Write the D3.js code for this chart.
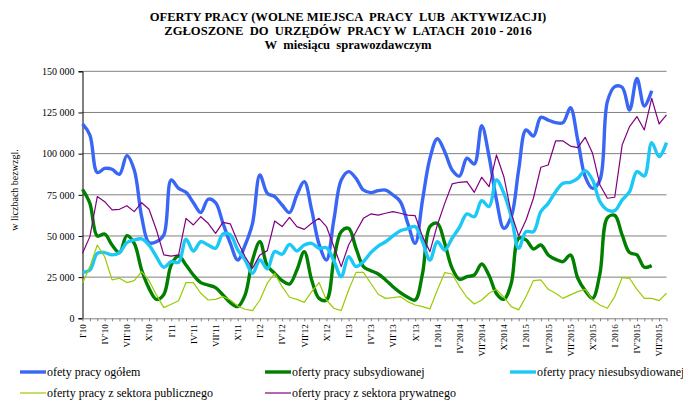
<!DOCTYPE html>
<html>
<head>
<meta charset="utf-8">
<script src="https://cdn.jsdelivr.net/npm/d3@7"></script>
<style>
  body { margin: 0; background: #fff; }
  svg { font-family: "Liberation Serif", "Times New Roman", serif; }
</style>
</head>
<body>
<div id="chart"></div>
<script>
// oferty pracy 2010 - 2016, miesiecznie (I'10 .. VIII'16)
var ogolem = [118.0,111.3,88.5,91.0,90.5,87.4,98.8,90.1,61.7,45.9,46.5,50.6,84.0,78.9,76.5,70.2,64.2,72.3,70.2,57.7,
  45.5,35.4,44.5,57.7,87.0,75.9,73.9,68.8,64.2,74.9,83.0,65.8,45.0,35.4,59.7,84.0,89.1,85.0,77.9,76.3,
  77.5,77.9,74.9,70.8,57.7,45.5,71.9,97.2,109.0,101.2,90.1,86.4,97.2,93.7,117.0,98.2,71.9,54.6,61.7,90.1,
  114.4,110.7,122.0,120.4,118.8,118.8,127.9,108.2,86.0,78.9,84.0,131.6,140.7,140.3,126.5,145.7,128.9,138.2];
var subsydiowane = [78.3,69.8,50.0,51.2,44.5,39.9,50.2,45.5,29.3,18.2,11.5,14.5,32.4,37.8,32.4,26.3,21.7,20.2,18.6,14.2,
  9.5,7.1,14.2,35.4,46.5,31.8,27.3,22.9,20.8,29.3,40.5,23.3,12.1,11.1,35.4,52.6,54.6,42.5,31.4,28.9,
  26.9,23.3,19.2,15.6,12.8,11.1,27.3,55.7,57.7,45.5,30.4,23.7,25.3,26.3,33.0,26.0,15.0,11.5,21.3,48.6,
  47.6,42.1,44.5,38.5,35.8,34.4,38.5,24.3,16.8,12.1,27.3,61.0,62.5,50.6,39.9,38.5,31.0,32.0];
var niesubsydiowane = [27.9,29.3,39.5,39.9,38.5,39.9,45.9,47.6,48.2,44.5,37.4,31.0,34.4,34.0,48.0,40.9,46.5,44.5,42.5,51.2,
  50.6,41.5,35.4,27.3,35.4,30.0,40.5,38.9,44.9,40.9,44.5,45.5,42.5,42.9,35.0,25.3,37.4,31.4,34.4,39.9,
  43.9,46.5,50.0,53.2,54.4,55.7,46.5,35.4,46.5,41.5,48.6,55.3,63.4,61.7,71.4,67.8,84.0,75.9,61.7,42.5,
  52.6,52.6,64.8,69.8,76.9,82.0,82.6,85.0,89.7,84.0,70.8,65.8,65.4,71.9,76.9,89.1,86.4,106.7,98.2,106.7];
var publiczne = [21.3,31.4,44.5,37.4,23.3,24.3,21.7,22.9,28.3,22.9,14.2,6.5,8.5,10.7,21.7,21.7,15.2,11.1,11.5,13.2,
  11.1,7.5,5.5,4.7,11.1,21.3,27.3,19.2,12.8,11.5,9.7,16.2,21.7,11.1,6.1,4.7,17.2,27.9,27.9,21.3,
  14.6,12.1,12.5,13.2,10.1,8.1,7.1,5.7,17.2,27.7,26.9,19.2,12.8,8.7,11.1,15.2,17.6,12.8,7.1,5.1,
  13.2,22.9,23.3,17.6,15.2,12.1,14.2,16.2,17.6,11.1,8.1,6.1,13.2,24.7,24.3,17.6,12.1,12.1,10.7,15.2];
var prywatne = [39.5,49.6,73.9,70.8,65.8,66.2,68.4,64.8,70.2,66.2,53.6,38.5,37.8,38.5,60.7,56.7,61.7,57.7,51.6,58.3,
  57.3,46.5,37.4,30.4,38.5,41.1,59.1,55.7,61.3,55.7,54.0,57.7,60.7,55.7,43.5,31.4,44.5,52.6,60.7,63.4,
  62.7,63.8,64.8,63.8,62.7,62.3,49.6,40.5,56.7,69.8,81.6,82.6,83.0,76.5,85.6,79.9,99.2,86.0,63.8,50.0,
  59.7,72.9,91.7,93.1,107.7,107.7,104.6,103.6,109.9,100.2,81.0,72.9,73.5,105.2,116.4,122.5,114.4,133.6,118.0,123.5];

// podpisy osi X co 3 miesiace (tak jak w oryginale, razem z literowkami)
var etykiety = ["I'10","IV'10","VII'10","X'10","I'11","IV'11","VII'11","X'11","I'12","IV'12","VII'12","X'12",
  "I'13","IV'13","VII'13","X'13","I 2014","IV'2014","VII'2014","X'2014","I 2015","IV'2015","VII'2015","X'2015",
  "I 2016","IV'2015","VII'2015"];
var yTicks = [0, 25000, 50000, 75000, 100000, 125000, 150000];

var serie = [
  { nazwa: "ofety pracy ogółem", dane: ogolem, kolor: "#3a66f5", w: 3.4, gladka: true },
  { nazwa: "oferty pracy subsydiowanej", dane: subsydiowane, kolor: "#007f00", w: 3.4, gladka: true },
  { nazwa: "oferty pracy niesubsydiowanej", dane: niesubsydiowane, kolor: "#1cc8f5", w: 3.4, gladka: true },
  { nazwa: "oferty pracy z sektora publicznego", dane: publiczne, kolor: "#99cc00", w: 1.2, gladka: false },
  { nazwa: "oferty pracy z sektora prywatnego", dane: prywatne, kolor: "#800080", w: 1.2, gladka: false }
];

var W = 683, H = 400;
var svg = d3.select("#chart").append("svg").attr("width", W).attr("height", H);

var x = d3.scalePoint().domain(d3.range(80)).range([82.5, 666.5]);
var y = d3.scaleLinear().domain([0, 150000]).range([318.3, 71.3]);

// tytul
var tytul = ["OFERTY PRACY (WOLNE MIEJSCA  PRACY  LUB  AKTYWIZACJI)",
  "ZGŁOSZONE  DO  URZĘDÓW  PRACY W  LATACH  2010 - 2016",
  "W  miesiącu  sprawozdawczym"];
svg.selectAll("text.tytul").data(tytul).enter().append("text")
  .attr("class", "tytul")
  .attr("x", 348).attr("y", function(d, i) { return 21 + i * 14; })
  .attr("text-anchor", "middle")
  .style("font-weight", "bold").style("font-size", "12.6px")
  .style("white-space", "pre")
  .attr("xml:space", "preserve")
  .text(function(d) { return d; });

// siatka
svg.append("g").selectAll("line").data(yTicks.slice(1)).enter().append("line")
  .attr("x1", 82.5).attr("x2", 666.5)
  .attr("y1", function(d) { return y(d); }).attr("y2", function(d) { return y(d); })
  .style("stroke", "#808080").style("stroke-width", 1);

// os Y
var yAxis = svg.append("g").attr("transform", "translate(82.5,0)")
  .call(d3.axisLeft(y).tickValues(yTicks).tickSize(4).tickPadding(4)
    .tickFormat(function(d) { return d3.format(",")(d).replace(/,/g, " "); }));
yAxis.select(".domain").style("stroke", "#000");
yAxis.selectAll("text").style("font-size", "10px").style("font-family", "Liberation Serif, serif").attr("fill", "#000");

svg.append("text")
  .attr("transform", "translate(18,190) rotate(-90)")
  .attr("text-anchor", "middle")
  .style("font-size", "10px")
  .text("w liczbach bezwzgl.");

// os X
var xAxis = svg.append("g").attr("transform", "translate(0,318.3)")
  .call(d3.axisBottom(x).tickSize(3).tickSizeOuter(0)
    .tickFormat(function(d) { return d % 3 === 0 ? etykiety[d / 3] : ""; }));
xAxis.select(".domain").style("stroke", "#808080");
xAxis.selectAll(".tick line").style("stroke", "#808080");
xAxis.selectAll("text")
  .style("font-size", "9px").style("font-family", "Liberation Serif, serif").attr("fill", "#000")
  .attr("text-anchor", "end")
  .attr("transform", "rotate(-90)")
  .attr("x", -6).attr("y", 0).attr("dy", "0.32em");

// linie
serie.forEach(function(s) {
  var linia = d3.line()
    .x(function(d, i) { return x(i); })
    .y(function(d) { return y(d * 1000); })
    .curve(s.gladka ? d3.curveCatmullRom.alpha(0.5) : d3.curveLinear);
  svg.append("path").datum(s.dane)
    .attr("d", linia)
    .style("fill", "none")
    .style("stroke", s.kolor)
    .style("stroke-width", s.w)
    .style("stroke-linejoin", "round");
});

// legenda
var legPos = [[20, 372], [265, 372], [510, 372], [20, 393], [265, 393]];
var leg = svg.append("g").selectAll("g").data(serie).enter().append("g")
  .attr("transform", function(d, i) { return "translate(" + legPos[i][0] + "," + legPos[i][1] + ")"; });
leg.append("line").attr("x1", 0).attr("x2", 26).attr("y1", 0).attr("y2", 0)
  .style("stroke", function(d) { return d.kolor; })
  .style("stroke-width", function(d) { return d.w; });
leg.append("text").attr("x", 27).attr("y", 4)
  .style("font-size", "12px")
  .text(function(d) { return d.nazwa; });
</script>
</body>
</html>
